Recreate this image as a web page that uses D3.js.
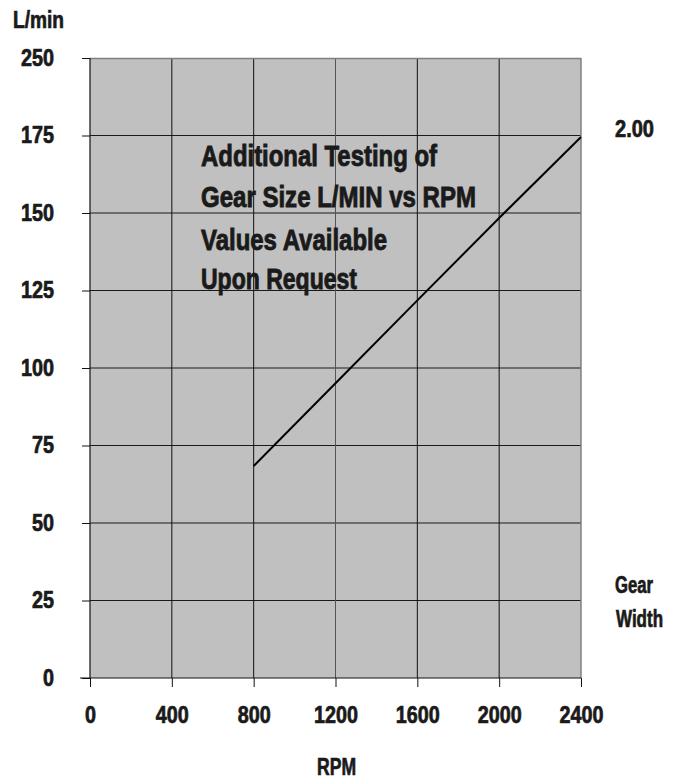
<!DOCTYPE html>
<html><head><meta charset="utf-8">
<script src="https://cdn.jsdelivr.net/npm/d3@7"></script>
<style>
body{margin:0;background:#fff;}
text{font-family:"Liberation Sans",Arial,sans-serif;font-weight:bold;fill:#1a1a1a;stroke:#1a1a1a;stroke-width:0.7px;}
</style></head>
<body><svg id="c" width="681" height="780"></svg>
<script>
const rpm = [800, 1200, 1600, 2000, 2400];
const flow = [68.4, 95.1, 121.8, 148.4, 174.5];
const xTicks = [0, 400, 800, 1200, 1600, 2000, 2400];
const yTicks = [0, 25, 50, 75, 100, 125, 150, 175, 200];
const yTickLabels = ["0", "25", "50", "75", "100", "125", "150", "175", "250"];
const seriesLabel = "2.00";
const note = ["Additional Testing of", "Gear Size L/MIN vs RPM", "Values Available", "Upon Request"];

const svg = d3.select("#c");
const L = 90, R = 581, T = 58, B = 678;
const x = d3.scaleLinear().domain([0, 2400]).range([L, R]);
const y = d3.scaleLinear().domain([0, 200]).range([B, T]);

function fit(sel, w) {
  sel.attr("textLength", w).attr("lengthAdjust", "spacingAndGlyphs");
}

svg.append("rect").attr("x", L).attr("y", T).attr("width", R - L).attr("height", B - T).attr("fill", "#c0c0c0");

// gridlines
svg.append("g").selectAll("line").data(yTicks.slice(1, -1)).join("line")
  .attr("x1", L).attr("x2", R).attr("y1", d => y(d)).attr("y2", d => y(d))
  .attr("stroke", "#1a1a1a").attr("stroke-width", 1);
svg.append("g").selectAll("line").data(xTicks.slice(1, -1)).join("line")
  .attr("x1", d => x(d)).attr("x2", d => x(d)).attr("y1", T).attr("y2", B)
  .attr("stroke", (d,i) => i === 2 ? "#555" : "#111").attr("stroke-width", 1);
// top & right border gray
svg.append("line").attr("x1", L).attr("x2", R).attr("y1", T + 0.5).attr("y2", T + 0.5).attr("stroke", "#808080").attr("stroke-width", 1.5);
svg.append("line").attr("x1", R).attr("x2", R).attr("y1", T).attr("y2", B).attr("stroke", "#808080").attr("stroke-width", 1.5);

// axes
const yAxis = d3.axisLeft(y).tickValues(yTicks).tickFormat((d, i) => yTickLabels[i]).tickSize(8).tickPadding(28);
const gy = svg.append("g").attr("transform", `translate(${L},0)`).call(yAxis);
const xAxis = d3.axisBottom(x).tickValues(xTicks).tickFormat(d3.format("d")).tickSize(9).tickPadding(20);
const gx = svg.append("g").attr("transform", `translate(0,${B})`).call(xAxis);
[gx, gy].forEach(g => {
  g.select(".domain").remove();
  g.selectAll(".tick line").attr("stroke", "#111");
  g.selectAll(".tick text").style("font-size", "23px").attr("fill", "#1a1a1a")
    .each(function() { const t = d3.select(this); fit(t, 11 * t.text().length); });
});
svg.append("line").attr("x1", L).attr("x2", L).attr("y1", T).attr("y2", B).attr("stroke", "#111").attr("stroke-width", 1.2);
svg.append("line").attr("x1", 80).attr("x2", R).attr("y1", B).attr("y2", B).attr("stroke", "#111").attr("stroke-width", 1.2);

// series line
const line = d3.line().x((d, i) => x(rpm[i])).y(d => y(d));
svg.append("path").datum(flow).attr("d", line).attr("fill", "none").attr("stroke", "#000").attr("stroke-width", 2);

// labels
svg.append("text").attr("x", 13).attr("y", 28).style("font-size", "23px").text("L/min").call(fit, 51);
svg.append("text").attr("x", 317).attr("y", 775).style("font-size", "24px").text("RPM").call(fit, 39);
svg.append("text").attr("x", 615).attr("y", 137).style("font-size", "23px").text(seriesLabel).call(fit, 39);
svg.append("text").attr("x", 615).attr("y", 593).style("font-size", "23px").text("Gear").call(fit, 38);
svg.append("text").attr("x", 616).attr("y", 627).style("font-size", "23px").text("Width").call(fit, 47);

const baselines = [166, 207, 250, 289];
const widths = [236, 275, 186, 156];
svg.append("g").selectAll("text").data(note).join("text")
  .attr("x", 201).attr("y", (d, i) => baselines[i])
  .style("font-size", "30px").style("stroke-width", "0.9px").attr("fill", "#111").text(d => d)
  .each(function(d, i) { fit(d3.select(this), widths[i]); });
</script></body></html>
